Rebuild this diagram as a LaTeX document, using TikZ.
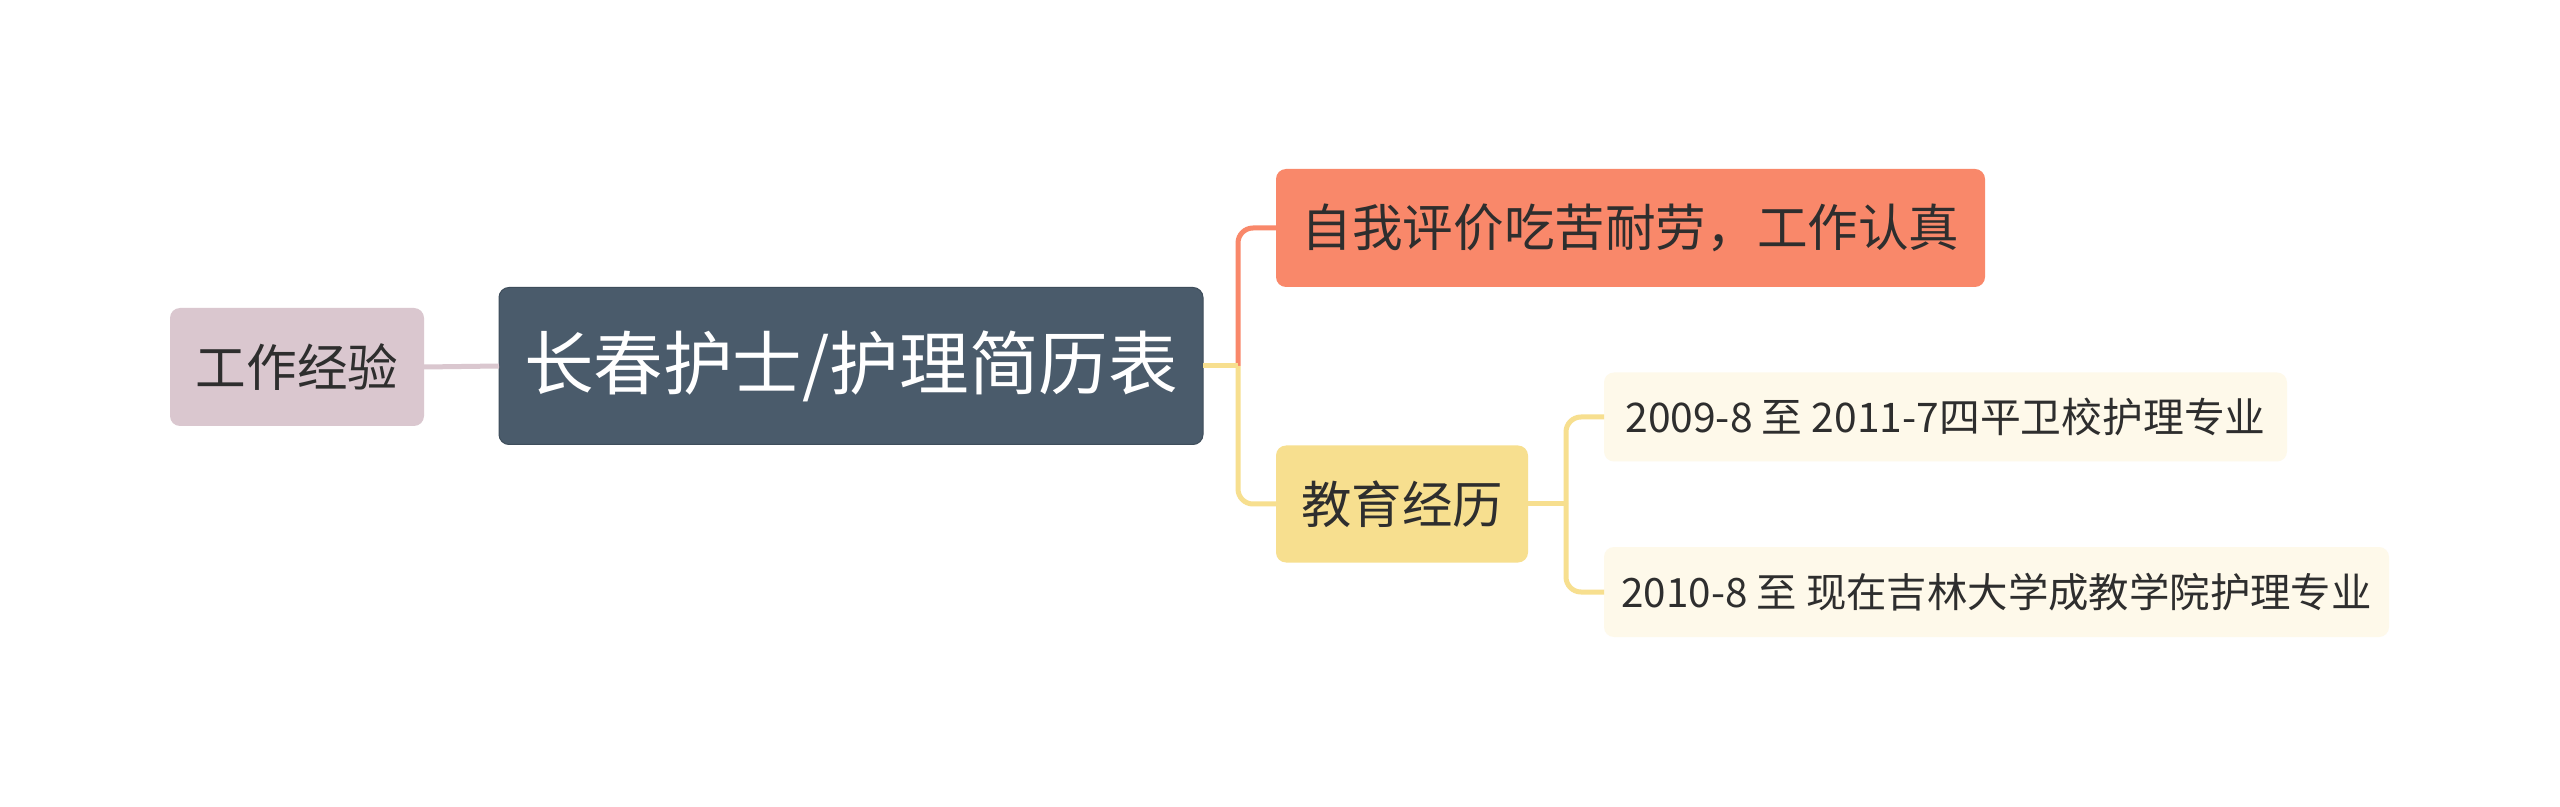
\documentclass[tikz,border=0pt]{standalone}
\usepackage{fontspec}
\setmainfont{Noto Sans CJK SC}
\definecolor{workfill}{HTML}{DAC7CF}
\definecolor{centerfill}{HTML}{4A5B6B}
\definecolor{centerdraw}{HTML}{3E4D5B}
\definecolor{coral}{HTML}{F9886A}
\definecolor{sand}{HTML}{F7DF8F}
\definecolor{cream}{HTML}{FEF9EA}
\definecolor{ink}{HTML}{2E2E2E}
\tikzset{
  box/.style={rounded corners=5pt, inner sep=0pt, outer sep=0pt, align=center, text=ink},
  link/.style={line width=2.5pt, rounded corners=7.5pt},
}
\begin{document}
\begin{tikzpicture}[x=0.5pt,y=-0.5pt]
\useasboundingbox (0,0) rectangle (2560,807);
\fill[white] (0,0) rectangle (2560,807);
% nodes
\node[box, fill=workfill, minimum width=127pt, minimum height=59pt, font=\fontsize{25.3}{30}\selectfont] (work) at (297,367) {工作经验};
\node[box, fill=centerfill, draw=centerdraw, line width=0.5pt, text=white, minimum width=352pt, minimum height=78.5pt, font=\fontsize{34.8}{40}\selectfont] (center) at (851,366) {长春护士/护理简历表};
\node[box, fill=coral, minimum width=354.5pt, minimum height=59pt, font=\fontsize{25.3}{30}\selectfont] (self) at (1630.5,228) {自我评价吃苦耐劳，工作认真};
\node[box, fill=sand, minimum width=126pt, minimum height=58.5pt, font=\fontsize{25.2}{30}\selectfont] (edu) at (1402,504) {教育经历};
\node[box, fill=cream, minimum width=341.5pt, minimum height=44.5pt, font=\fontsize{20.4}{24}\selectfont] (leafa) at (1945.5,417) {2009-8 至 2011-7四平卫校护理专业};
\node[box, fill=cream, minimum width=392.5pt, minimum height=45pt, font=\fontsize{20.2}{24}\selectfont] (leafb) at (1996.5,592) {2010-8 至 现在吉林大学成教学院护理专业};
% junctions
\coordinate (j1) at (1238,366);
\coordinate (j2) at (1566,504);
% connectors
\draw[link, draw=workfill] (work.east) -- (center.west);
\draw[link, draw=coral] (j1) |- (self.west);
\draw[link, draw=sand] (j1) |- (edu.west);
\draw[line width=2.5pt, draw=sand] (center.east) -- (j1);
\draw[line width=2.5pt, draw=sand] (edu.east) -- (j2);
\draw[link, draw=sand] (j2) |- (leafa.west);
\draw[link, draw=sand] (j2) |- (leafb.west);
\end{tikzpicture}
\end{document}
